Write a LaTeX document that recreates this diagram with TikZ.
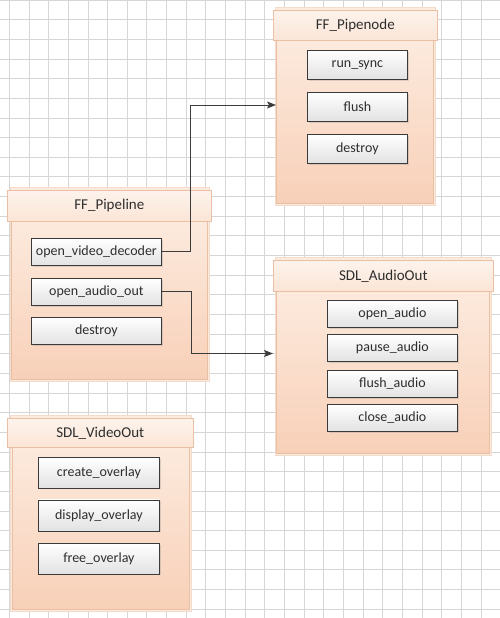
\documentclass[tikz,border=0pt]{standalone}
\usepackage{fontspec}
\setmainfont{Carlito}
\usetikzlibrary{arrows.meta,shadows,positioning}
\definecolor{gridc}{HTML}{D6D6D6}
\definecolor{hdrtop}{HTML}{FDF3EC}
\definecolor{hdrbot}{HTML}{FBE5D6}
\definecolor{bodytop}{HTML}{FCEADD}
\definecolor{bodybot}{HTML}{F8D0B8}
\definecolor{peachline}{HTML}{E9C0A3}
\definecolor{backc}{HTML}{F3DCCB}
\definecolor{itemline}{HTML}{3A3A3A}
\definecolor{itembot}{HTML}{E2E2E2}
\definecolor{txt}{HTML}{2E2E2E}
\definecolor{conn}{HTML}{3C3C3C}
\tikzset{
  gridline/.style={draw=gridc, line width=0.8pt},
  backbox/.style={draw=backc, fill=bodytop, line width=0.6pt},
  hdrbox/.style={draw=peachline, top color=hdrtop, bottom color=hdrbot, line width=0.6pt,
    anchor=north west, inner sep=0pt, font=\fontsize{15}{18}\selectfont, text=txt},
  bodybox/.style={draw=peachline, top color=bodytop, bottom color=bodybot, line width=0.6pt,
    anchor=north west, inner sep=0pt, drop shadow={shadow xshift=1pt, shadow yshift=-1pt, opacity=0.15}},
  itembox/.style={draw=itemline, top color=white, bottom color=itembot, line width=0.8pt,
    anchor=north west, inner sep=0pt, font=\fontsize{14}{17}\selectfont, text=txt,
    drop shadow={shadow xshift=1.2pt, shadow yshift=-1.2pt, opacity=0.25}},
  connline/.style={draw=conn, line width=1pt, -{Stealth[length=9pt,width=7pt,inset=2pt]}}
}
\begin{document}
\begin{tikzpicture}[x=1pt,y=-1pt]
\useasboundingbox (0,0) rectangle (500,618);
\fill[white] (0,0) rectangle (500,618);
% grid
\foreach \i in {0,...,25} \draw[gridline] ({9.3+\i*19.65},0) -- ({9.3+\i*19.65},618);
\foreach \j in {0,...,31} \draw[gridline] (0,{\j*19.65}) -- (500,{\j*19.65});

% ---------- FF_Pipenode ----------
\draw[backbox] (275,7) rectangle (435,205);
\node[bodybox, minimum width=157pt, minimum height=163pt] (pnbody) at (276,40) {};
\node[hdrbox, minimum width=164pt, minimum height=30pt] (pnhdr) at (273,10) {FF\_Pipenode};
\node[itembox, minimum width=100pt, minimum height=29pt] (rs) at (307,50) {run\_sync};
\node[itembox, minimum width=100pt, minimum height=29pt] (fl) at (307,92) {flush};
\node[itembox, minimum width=100pt, minimum height=29pt] (pnd) at (307,134) {destroy};

% ---------- FF_Pipeline ----------
\draw[backbox] (10,187) rectangle (209,381);
\node[bodybox, minimum width=196pt, minimum height=158pt] (plbody) at (11,221) {};
\node[hdrbox, minimum width=204pt, minimum height=31pt] (plhdr) at (7,190) {FF\_Pipeline};
\node[itembox, minimum width=130pt, minimum height=27pt] (vd) at (31,238) {open\_video\_decoder};
\node[itembox, minimum width=130pt, minimum height=27pt] (ao) at (31,278) {open\_audio\_out};
\node[itembox, minimum width=130pt, minimum height=27pt] (pld) at (31,317) {destroy};

% ---------- SDL_AudioOut ----------
\draw[backbox] (275,257) rectangle (491,455);
\node[bodybox, minimum width=213pt, minimum height=162pt] (aobody) at (276,291) {};
\node[hdrbox, minimum width=220pt, minimum height=31pt] (aohdr) at (273,260) {SDL\_AudioOut};
\node[itembox, minimum width=130pt, minimum height=27pt] (oa) at (327,300) {open\_audio};
\node[itembox, minimum width=130pt, minimum height=27pt] (pa) at (327,334) {pause\_audio};
\node[itembox, minimum width=130pt, minimum height=27pt] (fa) at (327,370) {flush\_audio};
\node[itembox, minimum width=130pt, minimum height=27pt] (ca) at (327,404) {close\_audio};

% ---------- SDL_VideoOut ----------
\draw[backbox] (10,415) rectangle (191,611);
\node[bodybox, minimum width=177pt, minimum height=162pt] (vobody) at (12,447) {};
\node[hdrbox, minimum width=186pt, minimum height=29pt] (vohdr) at (7,418) {SDL\_VideoOut};
\node[itembox, minimum width=121pt, minimum height=30.5pt] (co) at (38,457) {create\_overlay};
\node[itembox, minimum width=121pt, minimum height=31pt] (dov) at (38,499.5) {display\_overlay};
\node[itembox, minimum width=121pt, minimum height=30.5pt] (fo) at (38,543) {free\_overlay};

% ---------- connectors ----------
\coordinate (bendA) at (190,105);
\coordinate (bendB) at (191,353.5);
\draw[connline] (vd.east) -| (bendA) -- (pnbody.west |- bendA);
\draw[connline] (ao.east) -| (bendB) -- ([xshift=-3pt]aobody.west |- bendB);
\end{tikzpicture}
\end{document}
